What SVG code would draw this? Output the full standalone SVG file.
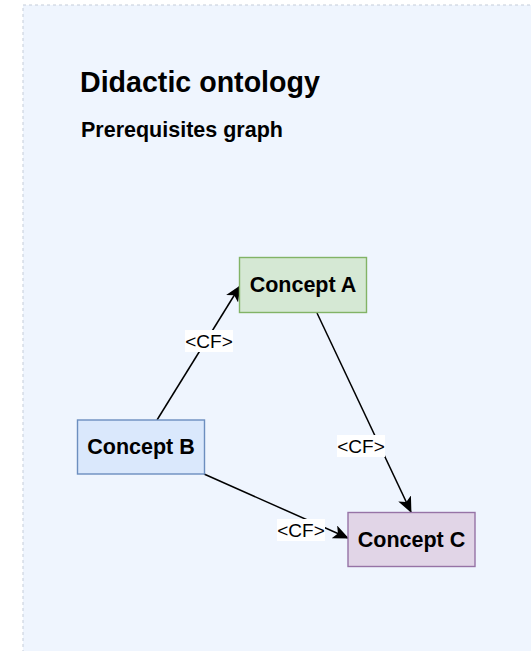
<svg xmlns="http://www.w3.org/2000/svg" width="531" height="651" viewBox="0 0 531 651">
  <style>
    .title { font-family: "Liberation Sans", Arial, Helvetica, sans-serif; font-weight: bold; fill: #000; }
    .node-label { font-family: "Liberation Sans", Arial, Helvetica, sans-serif; font-weight: bold; font-size: 21.5px; fill: #000; text-anchor: middle; }
    .edge { fill: none; stroke: #000; stroke-width: 1.5; marker-end: url(#arrow); }
    .edge-label-bg { fill: #ffffff; }
    .edge-label { font-family: "Liberation Sans", Arial, Helvetica, sans-serif; font-size: 19px; fill: #000; text-anchor: middle; }
  </style>
  <defs>
    <!-- classic notched arrowhead -->
    <marker id="arrow" viewBox="0 0 16 14" refX="15" refY="7" markerWidth="16" markerHeight="14" markerUnits="userSpaceOnUse" orient="auto">
      <path d="M0,0 L16,7 L0,14 L4,7 Z" fill="#000"/>
    </marker>
  </defs>

  <!-- canvas background -->
  <rect x="0" y="0" width="531" height="651" fill="#ffffff"/>
  <!-- container frame -->
  <g id="container">
    <rect x="23" y="5" width="620" height="700" fill="#eff5fe" stroke="#c5cdd9" stroke-width="1" stroke-dasharray="3,3"/>
    <text class="title" x="80" y="92" font-size="28.6">Didactic ontology</text>
    <text class="title" x="81" y="137" font-size="21.5">Prerequisites graph</text>
  </g>

  <!-- connectors -->
  <g id="connectors">
    <line class="edge" x1="157" y1="420" x2="240" y2="286"/>
    <line class="edge" x1="317" y1="313" x2="411" y2="512"/>
    <line class="edge" x1="204" y1="474" x2="348" y2="538"/>

    <rect class="edge-label-bg" x="185" y="330" width="48" height="22"/>
    <text class="edge-label" x="209" y="347.5">&lt;CF&gt;</text>

    <rect class="edge-label-bg" x="337" y="435" width="48" height="22"/>
    <text class="edge-label" x="361" y="452.5">&lt;CF&gt;</text>

    <rect class="edge-label-bg" x="277" y="519" width="48" height="22"/>
    <text class="edge-label" x="301" y="536.5">&lt;CF&gt;</text>
  </g>

  <!-- nodes -->
  <g id="concept-a">
    <rect x="239.5" y="257.5" width="127" height="55" fill="#d5e8d4" stroke="#82b366" stroke-width="1.4"/>
    <text class="node-label" x="303" y="292">Concept A</text>
  </g>
  <g id="concept-b">
    <rect x="77.5" y="420" width="127" height="54" fill="#dae8fc" stroke="#6c8ebf" stroke-width="1.4"/>
    <text class="node-label" x="141" y="454">Concept B</text>
  </g>
  <g id="concept-c">
    <rect x="348" y="512.5" width="127" height="54" fill="#e1d5e7" stroke="#9673a6" stroke-width="1.4"/>
    <text class="node-label" x="411.5" y="546.5">Concept C</text>
  </g>
</svg>
